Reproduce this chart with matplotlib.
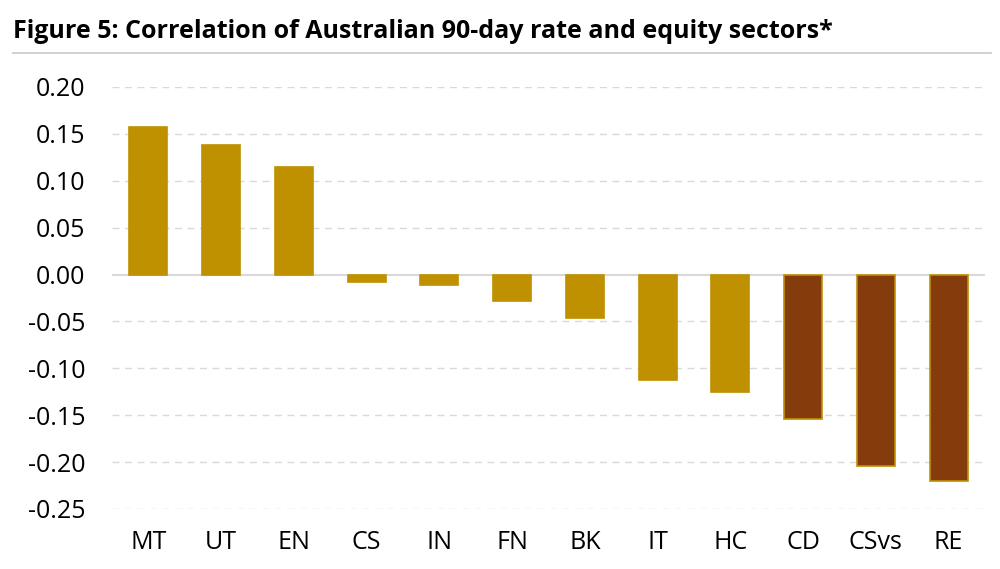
import matplotlib.pyplot as plt
from matplotlib.lines import Line2D

# === Data ===
sectors = ["MT", "UT", "EN", "CS", "IN", "FN", "BK", "IT", "HC", "CD", "CSvs", "RE"]
correlations = [0.157, 0.138, 0.115, -0.008, -0.011, -0.028, -0.046, -0.112, -0.125, -0.154, -0.204, -0.220]
highlighted = ["CD", "CSvs", "RE"]
yticks = [0.20, 0.15, 0.10, 0.05, 0.00, -0.05, -0.10, -0.15, -0.20, -0.25]

gold = "#BF9000"
brown = "#843C0C"

plt.rcParams["font.family"] = ["Open Sans", "DejaVu Sans"]

fig = plt.figure(figsize=(10, 5.69), dpi=100)
ax = fig.add_axes([0.112, 1 - 509 / 569, 0.873, 422 / 569])

colors = [brown if s in highlighted else gold for s in sectors]
ax.bar(range(len(sectors)), correlations, width=0.52, color=colors,
       edgecolor=gold, linewidth=1.2, zorder=3)

ax.set_xlim(-0.5, len(sectors) - 0.5)
ax.set_ylim(-0.25, 0.20)
ax.set_yticks(yticks)
ax.set_yticklabels([f"{v:.2f}" for v in yticks])
ax.set_xticks(range(len(sectors)))
ax.set_xticklabels(sectors)
ax.tick_params(axis="both", length=0, labelsize=18, colors="black")
ax.tick_params(axis="y", pad=19)
ax.tick_params(axis="x", pad=15)

for v in yticks:
    if v == 0:
        ax.axhline(0, color="#D9D9D9", linewidth=1.5, zorder=2)
    else:
        ax.axhline(v, color="#D9D9D9", linewidth=1, linestyle=(0, (5, 4)), zorder=1)

for side in ax.spines.values():
    side.set_visible(False)

# === Title ===
fig.text(0.013, 1 - 31 / 569, "Figure 5: Correlation of Australian 90-day rate and equity sectors*",
         fontsize=18, fontweight="bold", va="center", ha="left")
fig.add_artist(Line2D([0.013, 0.991], [1 - 53 / 569, 1 - 53 / 569],
                      color="#C8C8C8", linewidth=1.2, transform=fig.transFigure))

fig.savefig("out.png", dpi=100)
